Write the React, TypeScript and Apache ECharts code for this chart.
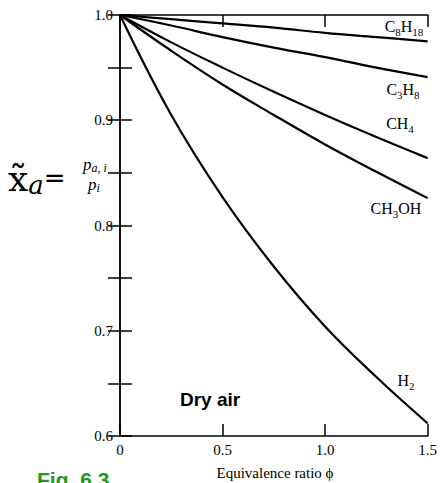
import React, { useEffect, useRef } from "react";
import * as echarts from "echarts";

const phi = [0, 0.25, 0.5, 0.75, 1.0, 1.25, 1.5];
const c8h18 = [1.0, 0.996, 0.992, 0.988, 0.983, 0.979, 0.975];
const c3h8 = [1.0, 0.99, 0.979, 0.969, 0.96, 0.95, 0.941];
const ch4 = [1.0, 0.974, 0.95, 0.927, 0.905, 0.884, 0.864];
const ch3oh = [1.0, 0.966, 0.934, 0.905, 0.877, 0.851, 0.826];
const h2 = [1.0, 0.905, 0.827, 0.761, 0.704, 0.656, 0.612];
const seriesNames = ["C8H18", "C3H8", "CH4", "CH3OH", "H2"];
const xTicks = ["0", "0.5", "1.0", "1.5"];

const SERIF = "'Liberation Serif', 'Times New Roman', serif";
const SANS = "'Liberation Sans', Arial, sans-serif";

export default function App() {
  const ref = useRef<HTMLDivElement>(null);
  useEffect(() => {
    if (!ref.current) return;
    const chart = echarts.init(ref.current, undefined, { renderer: "svg" });
    const all = [c8h18, c3h8, ch4, ch3oh, h2];
    const tickStyle = { color: "#000", width: 1.5 };
    const rich = {
      m: { fontSize: 16, fontFamily: SERIF, color: "#000", lineHeight: 22, verticalAlign: "middle" },
      s: { fontSize: 11, fontFamily: SERIF, color: "#000", lineHeight: 11, verticalAlign: "bottom" },
    };
    const lbl = (x: number, y: number, t: string) => ({
      type: "text",
      x,
      y,
      style: { text: t, rich, align: "center", verticalAlign: "middle" },
    });
    const fracRich = {
      p: { fontSize: 17, fontFamily: SERIF, fontStyle: "italic", color: "#000", lineHeight: 20, verticalAlign: "middle" },
      s: { fontSize: 12, fontFamily: SERIF, fontStyle: "italic", color: "#000", lineHeight: 12, verticalAlign: "bottom" },
    };
    chart.setOption({
      animation: false,
      grid: { left: 120, right: 9, top: 15, bottom: 47 },
      xAxis: [
        {
          type: "value",
          min: 0,
          max: 1.5,
          interval: 0.5,
          axisLine: { show: true, lineStyle: { color: "#000", width: 1.5 } },
          axisTick: { show: true, inside: true, length: 12, lineStyle: tickStyle },
          axisLabel: {
            color: "#000",
            fontFamily: SERIF,
            fontSize: 15,
            margin: 6,
            formatter: (v: number) => xTicks[Math.round(v * 2)] ?? "",
          },
          splitLine: { show: false },
        },
        {
          type: "value",
          position: "top",
          min: 0,
          max: 1.5,
          interval: 0.5,
          axisLine: { show: true, lineStyle: { color: "#000", width: 1.5 } },
          axisTick: { show: true, inside: true, length: 12, lineStyle: tickStyle },
          axisLabel: { show: false },
          splitLine: { show: false },
        },
      ],
      yAxis: [
        {
          type: "value",
          min: 0.6,
          max: 1.0,
          interval: 0.05,
          axisLine: { show: true, lineStyle: { color: "#000", width: 1.5 } },
          axisTick: { show: true, inside: true, length: 12, lineStyle: tickStyle },
          axisLabel: {
            color: "#000",
            fontFamily: SERIF,
            fontSize: 15,
            margin: 7,
            formatter: (v: number) =>
              Math.round(v * 100) % 10 === 0 ? v.toFixed(1) : "",
          },
          splitLine: { show: false },
        },
        {
          type: "value",
          position: "right",
          min: 0.6,
          max: 1.0,
          interval: 0.05,
          axisLine: { show: true, lineStyle: { color: "#000", width: 1.5 } },
          axisTick: { show: true, inside: true, length: 12, lineStyle: tickStyle },
          axisLabel: { show: false },
          splitLine: { show: false },
        },
      ],
      series: all.map((vals, i) => ({
        name: seriesNames[i],
        type: "line",
        smooth: 0.4,
        showSymbol: false,
        lineStyle: { color: "#000", width: 2.2 },
        data: phi.map((p, j) => [p, vals[j]]),
      })),
      graphic: [
        lbl(404, 26, "{m|C}{s|8}{m|H}{s|18}"),
        lbl(403, 89, "{m|C}{s|3}{m|H}{s|8}"),
        lbl(400, 123, "{m|CH}{s|4}"),
        lbl(396, 208, "{m|CH}{s|3}{m|OH}"),
        lbl(406, 380, "{m|H}{s|2}"),
        {
          type: "text",
          x: 180,
          y: 399,
          style: {
            text: "Dry air",
            font: `bold 19px ${SANS}`,
            fill: "#000",
            verticalAlign: "middle",
          },
        },
        {
          type: "text",
          x: 275,
          y: 473,
          style: {
            text: "Equivalence ratio \u03d5",
            font: `15px ${SERIF}`,
            fill: "#000",
            align: "center",
            verticalAlign: "middle",
          },
        },
        {
          type: "text",
          x: 37,
          y: 479,
          style: {
            text: "Fig. 6.3",
            font: `bold 21px ${SANS}`,
            fill: "#1c9a1c",
            verticalAlign: "middle",
          },
        },
        {
          type: "text",
          x: 8,
          y: 178,
          style: {
            text: "{x|x\u0303}{a|a}{e|=}",
            verticalAlign: "middle",
            rich: {
              x: { fontSize: 36, fontFamily: "'DejaVu Serif', serif", color: "#222", lineHeight: 40, verticalAlign: "middle" },
              a: { fontSize: 26, fontFamily: "'DejaVu Serif', serif", fontStyle: "italic", color: "#222", lineHeight: 26, verticalAlign: "bottom" },
              e: { fontSize: 26, fontFamily: "'DejaVu Sans', sans-serif", color: "#222", lineHeight: 40, verticalAlign: "middle" },
            },
          },
        },
        {
          type: "text",
          x: 95,
          y: 164,
          style: { text: "{p|p}{s|a, i}", align: "center", verticalAlign: "middle", rich: fracRich },
        },
        {
          type: "text",
          x: 94,
          y: 184,
          style: { text: "{p|p}{s|i}", align: "center", verticalAlign: "middle", rich: fracRich },
        },
        {
          type: "text",
          x: 205,
          y: -3,
          style: { text: "p", font: `bold 22px ${SANS}`, fill: "#1a1aff", verticalAlign: "bottom" },
        },
        {
          type: "text",
          x: 410,
          y: -3,
          style: { text: "y", font: `bold 22px ${SANS}`, fill: "#1a1aff", verticalAlign: "bottom" },
        },
      ],
    });
    return () => chart.dispose();
  }, []);
  return <div ref={ref} style={{ width: 440, height: 483, position: "absolute", left: 0, top: 0, background: "#fff" }} />;
}
